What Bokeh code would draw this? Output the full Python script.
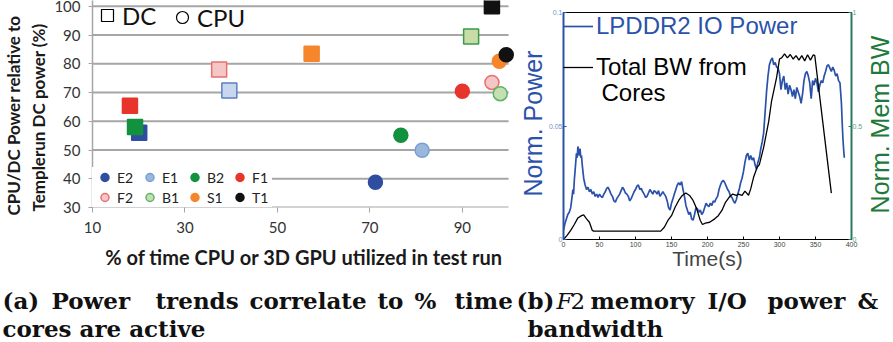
import math
from bokeh.plotting import figure
from bokeh.models import Range1d, LinearAxis, Legend, LegendItem, Label, FixedTicker
from bokeh.layouts import column, row
from bokeh.embed import file_html
from bokeh.resources import INLINE

# ---------------- (a) scatter data ----------------
bench = ["E2", "E1", "B2", "F1", "F2", "B1", "S1", "T1"]
dc_util = [20.1, 39.6, 19.2, 18.1, 37.4, 91.9, 57.4, 96.4]
dc_power = [56.0, 70.7, 58.0, 65.4, 78.0, 89.5, 83.5, 100.0]
cpu_util = [71.2, 81.3, 76.7, 90.0, 96.4, 98.2, 98.0, 99.5]
cpu_power = [38.8, 49.9, 55.1, 70.4, 73.5, 69.6, 80.9, 83.1]
x_ticks = [10, 30, 50, 70, 90]
y_ticks = [30, 40, 50, 60, 70, 80, 90, 100]
x_max = 100

fill_dc = ["#2f4ea0", "#c9d7ee", "#12913f", "#e8352b", "#f4c6c6", "#c8dca8", "#f5862c", "#111111"]
line_dc = ["#2f4ea0", "#5b80c4", "#12913f", "#e8352b", "#e8706e", "#3a9a48", "#f5862c", "#111111"]
fill_cpu = ["#2f4ea0", "#9ab8dd", "#12913f", "#e8352b", "#f4c6c6", "#c5dfb0", "#f5862c", "#111111"]
line_cpu = ["#2f4ea0", "#7a9fcf", "#12913f", "#e8352b", "#e8706e", "#5db36a", "#f5862c", "#111111"]

# ---------------- (b) time series data ----------------
t_power = [0, 2, 4, 6, 8, 10, 12, 13, 14, 15, 16, 17, 18, 19, 20, 21, 22, 23, 24, 25, 26, 27, 28,
           30, 32, 34, 36, 38, 40, 42, 44, 46, 48, 50, 52, 54, 56, 58, 60, 62, 64, 66, 68, 70,
           72, 74, 76, 78, 80, 82, 84, 86, 88, 90, 92, 94, 96, 98, 100, 102, 104, 106, 108, 110,
           112, 114, 116, 118, 120, 122, 124, 126, 128, 130, 132, 134, 136, 138, 140, 142, 144,
           146, 148, 150, 152, 154, 156, 158, 160, 162, 164, 166, 168, 170, 172, 174, 176, 178,
           180, 182, 184, 186, 188, 190, 192, 194, 196, 198, 200, 202, 204, 206, 208, 210, 212,
           214, 216, 218, 220, 222, 224, 226, 228, 230, 232, 234, 236, 238, 240, 242, 244, 246,
           248, 250, 252, 254, 256, 258, 260, 262, 264, 266, 268, 270, 272, 274, 276, 278, 280,
           282, 284, 286, 288, 290, 292, 294, 296, 298, 300, 302, 304, 306, 308, 310, 312, 314,
           316, 318, 320, 322, 324, 326, 328, 330, 332, 334, 336, 338, 340, 342, 344, 346, 348,
           350, 352, 354, 356, 358, 360, 362, 364, 366, 368, 370, 372, 374, 376, 378, 380, 382,
           384, 386, 387, 388, 389, 390]
power = [0.004, 0.007, 0.009, 0.011, 0.012, 0.014, 0.019, 0.022, 0.020, 0.026, 0.030, 0.034,
         0.038, 0.036, 0.041, 0.039, 0.037, 0.040, 0.036, 0.037, 0.033, 0.030, 0.027,
         0.024, 0.022, 0.023, 0.021, 0.022, 0.020, 0.021, 0.019, 0.020, 0.0185, 0.020, 0.019,
         0.0185, 0.020, 0.021, 0.0225, 0.023, 0.0215, 0.020, 0.019, 0.017,
         0.0165, 0.018, 0.019, 0.020, 0.0215, 0.023, 0.022, 0.0205, 0.020, 0.019, 0.017, 0.018,
         0.0195, 0.021, 0.022, 0.0235, 0.024, 0.022, 0.0225, 0.021,
         0.020, 0.0185, 0.019, 0.0205, 0.022, 0.021, 0.020, 0.0215, 0.021, 0.020, 0.0215, 0.019,
         0.020, 0.021, 0.020, 0.019, 0.017,
         0.014, 0.013, 0.016, 0.018, 0.020, 0.022, 0.024, 0.025, 0.024, 0.0255, 0.022, 0.019,
         0.015, 0.013, 0.011, 0.012, 0.009,
         0.0085, 0.011, 0.014, 0.0135, 0.012, 0.013, 0.011, 0.012, 0.014, 0.016, 0.015, 0.0145,
         0.016, 0.015, 0.017, 0.0165, 0.018,
         0.019, 0.022, 0.024, 0.0255, 0.026, 0.025, 0.0235, 0.022, 0.021, 0.019, 0.0185, 0.017,
         0.016, 0.0175, 0.020, 0.022, 0.025,
         0.027, 0.030, 0.034, 0.037, 0.038, 0.035, 0.037, 0.035, 0.036, 0.033, 0.031, 0.034,
         0.036, 0.040, 0.043, 0.047, 0.056,
         0.065, 0.072, 0.077, 0.079, 0.080, 0.077, 0.078, 0.076, 0.0755, 0.073, 0.066, 0.070,
         0.072, 0.066, 0.069, 0.064, 0.068,
         0.066, 0.063, 0.066, 0.062, 0.067, 0.065, 0.063, 0.060, 0.064, 0.070, 0.073, 0.074,
         0.072, 0.069, 0.062, 0.070, 0.068,
         0.071, 0.069, 0.065, 0.068, 0.070, 0.069, 0.072, 0.074, 0.0765, 0.077, 0.0755, 0.074,
         0.076, 0.0745, 0.072, 0.073, 0.070,
         0.069, 0.060, 0.052, 0.045, 0.040, 0.036]

t_bw = [0, 5, 10, 15, 20, 25, 28, 32, 36, 40, 42, 60, 100, 135, 140, 145, 150, 155, 160, 165,
        170, 175, 180, 185, 190, 193, 197, 203, 210, 215, 220, 225, 230, 235, 240, 243, 248,
        252, 257, 260, 264, 269, 272, 278, 285, 289, 296, 300, 303, 307, 311, 315, 319, 323,
        327, 331, 335, 339, 343, 347, 349, 372]
bw = [0.0, 0.018, 0.04, 0.066, 0.095, 0.105, 0.108, 0.091, 0.076, 0.04, 0.037, 0.037, 0.037,
      0.037, 0.054, 0.084, 0.105, 0.142, 0.172, 0.194, 0.205, 0.194, 0.172, 0.135, 0.084,
      0.066, 0.072, 0.076, 0.091, 0.105, 0.128, 0.164, 0.186, 0.200, 0.194, 0.200, 0.194,
      0.213, 0.195, 0.223, 0.274, 0.318, 0.33, 0.406, 0.52, 0.61, 0.714, 0.795, 0.80, 0.818,
      0.80, 0.815, 0.795, 0.81, 0.79, 0.81, 0.787, 0.814, 0.79, 0.814, 0.81, 0.204]

p_ticks = [0, 0.05, 0.1]
bw_ticks = [0, 0.5, 1]
t_ticks = [0, 50, 100, 150, 200, 250, 300, 350, 400]

NAN = float("nan")
ROT = math.pi / 2
H = 275


def strip(width):
    s = figure(width=width, height=H, x_range=Range1d(0, 1), y_range=Range1d(0, 1),
               output_backend="svg", toolbar_location=None, x_axis_location=None,
               y_axis_location=None, min_border=0, frame_align=False)
    s.outline_line_color = None
    s.xgrid.visible = False
    s.ygrid.visible = False
    return s


def vlabel(fig, text, x, y, font, size, color, style="normal"):
    fig.add_layout(Label(x=x, y=y, x_units="screen", y_units="screen", text=text, angle=ROT,
                         text_align="center", text_baseline="middle", text_font=font,
                         text_font_style=style, text_font_size=size, text_color=color))


# ================= left panel =================
strip_a = strip(50)
vlabel(strip_a, "CPU/DC Power relative to", 13, 160, "Lato", "17px", "#1a1a1a", "bold")
vlabel(strip_a, "Templerun DC power (%)", 38, 158, "Lato", "17px", "#1a1a1a", "bold")

left = figure(width=470, height=H, x_range=Range1d(10, 101.5), y_range=Range1d(30, 102),
              output_backend="svg", toolbar_location=None, frame_align=False,
              min_border_left=42, min_border_right=5, min_border_top=0, min_border_bottom=68)
left.outline_line_color = None
left.xgrid.visible = False
left.ygrid.visible = False
left.background_fill_color = "white"

left.segment(x0=[x_ticks[0]] * len(y_ticks), x1=[x_max] * len(y_ticks), y0=y_ticks, y1=y_ticks,
             line_color="#a6a6a6", line_width=2)

xa = left.xaxis[0]
xa.ticker = FixedTicker(ticks=x_ticks)
xa.axis_line_color = None
xa.major_tick_out = 5
xa.major_tick_in = 0
xa.major_tick_line_color = "#a6a6a6"
xa.minor_tick_line_color = None
xa.major_label_text_font = "Lato"
xa.major_label_text_font_size = "15px"
xa.major_label_text_color = "#333333"
xa.major_label_standoff = 9
xa.axis_label = "% of time CPU or 3D GPU utilized in test run"
xa.axis_label_text_font = "Lato"
xa.axis_label_text_font_style = "bold"
xa.axis_label_text_font_size = "20px"
xa.axis_label_text_color = "#1a1a1a"
xa.axis_label_standoff = 9

ya = left.yaxis[0]
ya.ticker = FixedTicker(ticks=y_ticks)
ya.axis_line_color = "#a6a6a6"
ya.axis_line_width = 1.5
ya.major_tick_out = 4
ya.major_tick_in = 0
ya.major_tick_line_color = "#a6a6a6"
ya.minor_tick_line_color = None
ya.major_label_text_font = "Lato"
ya.major_label_text_font_size = "15px"
ya.major_label_text_color = "#333333"
ya.major_label_standoff = 8

for i in range(len(bench)):
    left.scatter([dc_util[i]], [dc_power[i]], marker="square", size=15,
                 fill_color=fill_dc[i], line_color=line_dc[i], line_width=1.5)
cpu_r = []
for i in range(len(bench)):
    r = left.scatter([cpu_util[i]], [cpu_power[i]], marker="circle", size=14,
                     fill_color=fill_cpu[i], line_color=line_cpu[i], line_width=1.5)
    cpu_r.append(r)

sq = left.scatter(x=[NAN], y=[NAN], marker="square", fill_color=None, line_color="black", line_width=1.2)
ci = left.scatter(x=[NAN], y=[NAN], marker="circle", fill_color=None, line_color="black", line_width=1.2)
leg_style = dict(margin=0, padding=3, glyph_width=30, glyph_height=30, label_standoff=-6,
                 label_text_font="Lato", label_text_font_size="24px", label_text_color="#111111",
                 background_fill_alpha=0, border_line_color=None)
left.add_layout(Legend(items=[LegendItem(label="DC", renderers=[sq])], location="top_left", **leg_style))
left.add_layout(Legend(items=[LegendItem(label="CPU", renderers=[ci])], location=(75, 175), **leg_style))

bench_leg = Legend(items=[LegendItem(label=b, renderers=[cpu_r[i]]) for i, b in enumerate(bench)],
                   location="bottom_left", orientation="horizontal", ncols=4, margin=0, padding=0,
                   spacing=0, glyph_width=25, glyph_height=20, label_height=20, label_standoff=-2,
                   label_text_font="Lato", label_text_font_size="14px", label_text_color="#222222",
                   background_fill_color="white", background_fill_alpha=1, border_line_color=None)
left.add_layout(bench_leg)

# ================= right panel =================
blue = "#2b52aa"
green = "#1d7a3a"

strip_l = strip(25)
vlabel(strip_l, "Norm. Power", 12, 152, "Liberation Sans", "25px", blue)
strip_r = strip(28)
vlabel(strip_r, "Norm. Mem BW", 14, 151, "Liberation Sans", "25px", green)

right = figure(width=320, height=H, x_range=Range1d(0, 400), y_range=Range1d(0, 0.1),
               output_backend="svg", toolbar_location=None, frame_align=False,
               min_border_left=18, min_border_right=11, min_border_top=12, min_border_bottom=36)
right.extra_y_ranges = {"bw": Range1d(0, 1)}
right.xgrid.visible = False
right.ygrid.visible = False
right.outline_line_color = "black"
right.outline_line_width = 1

pw = right.line(t_power, power, line_color=blue, line_width=1.7)
bwl = right.line(t_bw, bw, line_color="black", line_width=1.3, y_range_name="bw")

bx = right.xaxis[0]
bx.ticker = FixedTicker(ticks=t_ticks)
bx.major_tick_in = 3
bx.major_tick_out = 0
bx.minor_tick_line_color = None
bx.major_label_text_font = "Liberation Sans"
bx.major_label_text_font_size = "7px"
bx.major_label_standoff = 2
bx.axis_label = "Time(s)"
bx.axis_label_text_font = "Liberation Sans"
bx.axis_label_text_font_style = "normal"
bx.axis_label_text_font_size = "21px"
bx.axis_label_standoff = -3

by = right.yaxis[0]
by.ticker = FixedTicker(ticks=p_ticks)
by.major_label_overrides = {0: "0", 0.05: "0.05", 0.1: "0.1"}
by.axis_line_color = blue
by.axis_line_width = 2
by.major_tick_in = 3
by.major_tick_out = 0
by.major_tick_line_color = blue
by.minor_tick_line_color = None
by.major_label_text_font = "Liberation Sans"
by.major_label_text_font_size = "7px"
by.major_label_text_color = "#7890c8"
by.major_label_standoff = 1

ry = LinearAxis(y_range_name="bw", ticker=FixedTicker(ticks=bw_ticks),
                major_label_overrides={0: "0", 0.5: "0.5", 1: "1"})
ry.axis_line_color = "#2a7a5e"
ry.axis_line_width = 2
ry.major_tick_in = 3
ry.major_tick_out = 0
ry.major_tick_line_color = "#2a7a5e"
ry.minor_tick_line_color = None
ry.major_label_text_font = "Liberation Sans"
ry.major_label_text_font_size = "7px"
ry.major_label_text_color = "#5aa878"
ry.major_label_standoff = 1
right.add_layout(ry, "right")

leg_a = Legend(items=[LegendItem(label="LPDDR2 IO Power", renderers=[pw])],
               location="top_left", margin=0, padding=5, glyph_width=30, label_standoff=3,
               label_text_font="Liberation Sans", label_text_font_size="24px", label_text_color=blue,
               background_fill_alpha=0, border_line_color=None)
right.add_layout(leg_a)
leg_b = Legend(items=[LegendItem(label="Total BW from", renderers=[bwl])],
               location=(0, 158), margin=0, padding=5, glyph_width=30, label_standoff=3,
               label_text_font="Liberation Sans", label_text_font_size="24px", label_text_color="black",
               background_fill_alpha=0, border_line_color=None)
right.add_layout(leg_b)
right.add_layout(Label(x=38, y=147, x_units="screen", y_units="screen", text="Cores",
                       text_font="Liberation Sans", text_font_size="24px", text_color="black",
                       text_baseline="middle"))

# ================= captions =================
cap = figure(width=893, height=67, x_range=Range1d(0, 1), y_range=Range1d(0, 1),
             output_backend="svg", toolbar_location=None, x_axis_location=None, y_axis_location=None,
             min_border=0, frame_align=False)
cap.outline_line_color = None
cap.xgrid.visible = False
cap.ygrid.visible = False

line1 = 42
line2 = 14
words = [("(a)", 2, line1, "bold"), ("Power", 51, line1, "bold"), ("trends", 155, line1, "bold"),
         ("correlate", 249, line1, "bold"), ("to", 377, line1, "bold"), ("%", 414, line1, "bold"),
         ("time", 454, line1, "bold"), ("cores are active", 2, line2, "bold"),
         ("(b)", 516, line1, "bold"), ("F", 556, line1, "italic"), ("2", 570, line1, "normal"),
         ("memory", 590, line1, "bold"), ("I/O", 707, line1, "bold"), ("power", 767, line1, "bold"),
         ("&", 857, line1, "bold"), ("bandwidth", 527, line2, "bold")]
for txt, xx, yy, st in words:
    cap.add_layout(Label(x=xx, y=yy, x_units="screen", y_units="screen", text=txt,
                         text_font="DejaVu Serif", text_font_style=st, text_font_size="23px",
                         text_color="#111111", text_baseline="alphabetic"))

layout = column(row(strip_a, left, strip_l, right, strip_r), cap)
open("out.html", "w").write(file_html(layout, INLINE))
